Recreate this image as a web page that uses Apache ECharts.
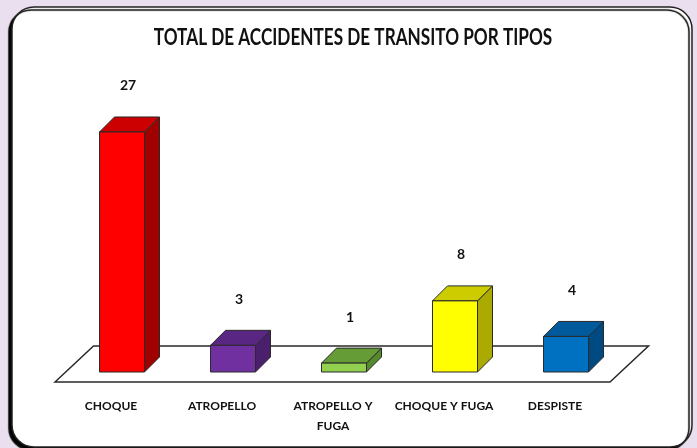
<!DOCTYPE html>
<html>
<head>
<meta charset="utf-8">
<script src="https://cdn.jsdelivr.net/npm/echarts@6/dist/echarts.min.js"></script>
<style>
  html, body { margin: 0; padding: 0; background: #eadfee; }
  #main { width: 697px; height: 448px; }
</style>
</head>
<body>
<div id="main"></div>
<script>
// data
var categories = ['CHOQUE', 'ATROPELLO', 'ATROPELLO Y\nFUGA', 'CHOQUE Y FUGA', 'DESPISTE'];
var totals = [27, 3, 1, 8, 4];
var titleText = 'TOTAL DE ACCIDENTES DE TRANSITO POR TIPOS';

// front / top / side shade for each box
var palette = [
    ['#ff0000', '#cc0000', '#a00000'],
    ['#7030a0', '#5a2684', '#4a1f6c'],
    ['#92d050', '#659c36', '#558a2c'],
    ['#ffff00', '#cccc00', '#aaaa00'],
    ['#0070c0', '#005a9c', '#004a82']
];

var font = "Lato, 'DejaVu Sans Condensed', sans-serif";
var DX = 15, DY = -15, BAR_W = 45;

function drawBox(params, api) {
    var i = api.value(0);
    var top = api.coord([i, api.value(1)]);
    var base = api.coord([i, 0]);
    var x0 = top[0] - BAR_W / 2, x1 = x0 + BAR_W;
    var yt = top[1], yb = base[1];
    var c = palette[i];
    var edge = { stroke: '#2a2a2a', lineWidth: 1 };
    return {
        type: 'group',
        children: [
            { type: 'polygon', shape: { points: [[x1, yt], [x1 + DX, yt + DY], [x1 + DX, yb + DY], [x1, yb]] },
              style: Object.assign({ fill: c[2] }, edge) },
            { type: 'polygon', shape: { points: [[x0, yt], [x0 + DX, yt + DY], [x1 + DX, yt + DY], [x1, yt]] },
              style: Object.assign({ fill: c[1] }, edge) },
            { type: 'rect', shape: { x: x0, y: yt, width: BAR_W, height: yb - yt },
              style: Object.assign({ fill: c[0] }, edge) },
            { type: 'text', x: top[0] + 6, y: yt - 46,
              style: { text: String(api.value(1)), fill: '#111', font: 'bold 14px ' + font,
                       align: 'center', verticalAlign: 'middle' } }
        ]
    };
}

function drawFloor(params, api) {
    var cs = params.coordSys;
    var y0 = api.coord([0, 0])[1];
    var l = cs.x, r = cs.x + cs.width;
    return {
        type: 'polygon',
        shape: { points: [[l - 11.5, y0 + 10], [l + 27, y0 - 26], [r + 27, y0 - 26], [r - 11.5, y0 + 10]] },
        style: { fill: '#fff', stroke: '#2a2a2a', lineWidth: 1.5 },
        silent: true
    };
}

var chart = echarts.init(document.getElementById('main'));
chart.setOption({
    animation: false,
    backgroundColor: '#eadfee',
    graphic: [{
        type: 'rect', z: -10,
        shape: { x: 12, y: 7, width: 680, height: 440, r: 22 },
        style: { fill: '#fff', stroke: '#222', lineWidth: 1.5,
                 shadowColor: '#000', shadowOffsetX: -3, shadowOffsetY: 3, shadowBlur: 1 }
    }, {
        type: 'text', x: 353, y: 38, scaleX: 0.78,
        style: { text: titleText, font: 'bold 22px ' + font, fill: '#111',
                 align: 'center', verticalAlign: 'middle' }
    }],
    grid: { left: 66.5, right: 75.5, top: 105.3, bottom: 76 },
    xAxis: {
        type: 'category', data: categories,
        axisLine: { show: false }, axisTick: { show: false },
        axisLabel: { margin: 24, interval: 0, fontFamily: font, fontWeight: 'bold', fontSize: 12,
                     color: '#111', lineHeight: 20, padding: [0, 22, 0, 0] }
    },
    yAxis: { type: 'value', min: 0, max: 30, show: false, splitLine: { show: false } },
    series: [
        { type: 'custom', renderItem: drawFloor, data: [[0, 0]], z: 1 },
        { type: 'custom', renderItem: drawBox, z: 2,
          data: totals.map(function (v, i) { return [i, v]; }) }
    ]
});
</script>
</body>
</html>
